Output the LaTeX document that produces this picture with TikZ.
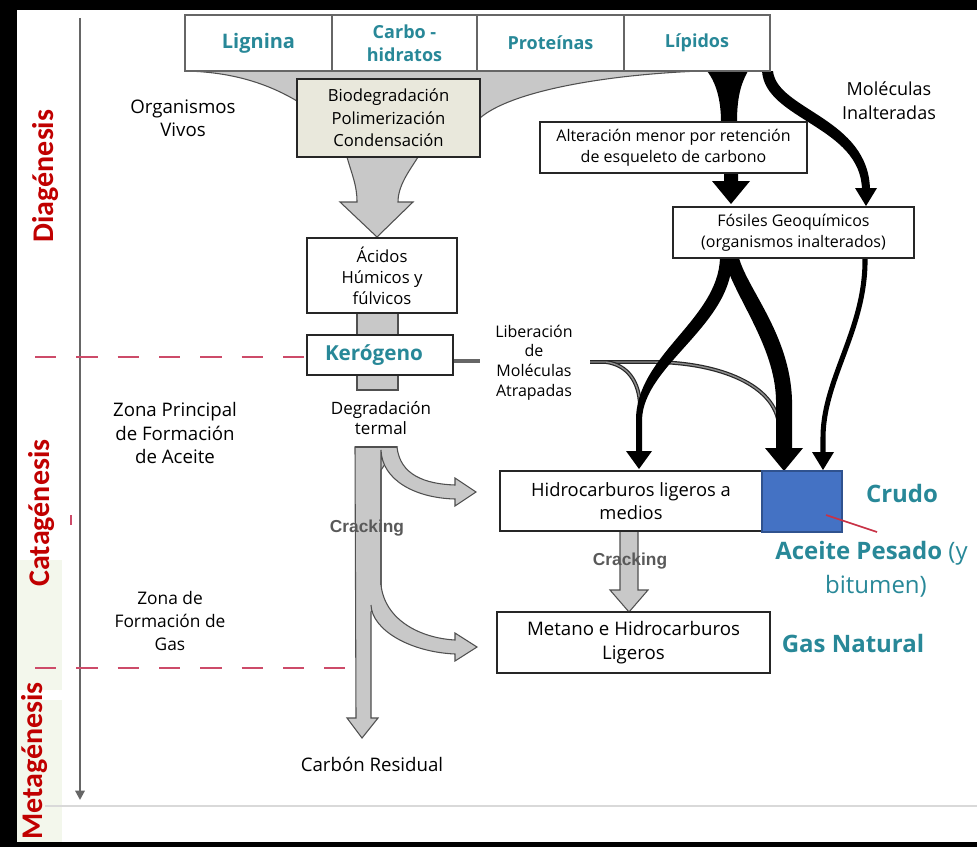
\documentclass[tikz,border=0pt]{standalone}
\usepackage{fontspec}
\setmainfont{Open Sans}
\newfontfamily\carl{Carlito}
\newfontfamily\lsans{Liberation Sans}
\usetikzlibrary{arrows.meta}
\definecolor{teal2}{RGB}{40,136,152}
\definecolor{dred}{RGB}{192,0,0}
\definecolor{dashred}{RGB}{205,75,105}
\definecolor{flowgray}{RGB}{200,200,200}
\definecolor{edgegray}{RGB}{80,80,80}
\definecolor{beige}{RGB}{233,232,220}
\definecolor{blueb}{RGB}{68,114,196}
\definecolor{bluee}{RGB}{47,82,143}
\definecolor{pointer}{RGB}{200,50,70}
\definecolor{stripgreen}{RGB}{243,247,236}
\begin{document}
\begin{tikzpicture}[x=0.75pt,y=-0.75pt,
 box/.style={draw=black!85, line width=0.9pt, fill=white, inner sep=0pt, align=center},
 cell/.style={draw=black!60, line width=1pt, fill=white, inner sep=0pt, align=center, text=teal2, minimum height=42pt},
 txt/.style={inner sep=0pt, align=center},
 gflow/.style={fill=flowgray, draw=edgegray, line width=0.8pt},
 gedge/.style={draw=edgegray, line width=0.8pt},
 zone/.style={rotate=90, text=dred, font=\carl\bfseries\fontsize{22.5}{24}\selectfont, inner sep=0pt},
 redash/.style={dashred, line width=1.5pt, dash pattern=on 16pt off 15pt},
 tealtxt/.style={inner sep=0pt, text=teal2, font=\fontsize{18}{22}\selectfont},
 crk/.style={inner sep=0pt, text=black!65, font=\lsans\bfseries\fontsize{13}{15}\selectfont},
 libline/.style={black!85, line width=0.9pt, double=black!45, double distance=1.1pt},
]
\useasboundingbox (0,0) rectangle (977,847);
\clip (0,0) rectangle (977,847);
% left strip tints
\fill[stripgreen] (17,560) rectangle (62,690);
\fill[stripgreen] (17,700) rectangle (62,842);
% frame
\fill[black] (0,0) rectangle (977,10);
\fill[black] (0,0) rectangle (17,847);
\fill[black] (0,842) rectangle (977,847);
% bottom light line
\draw[black!15, line width=1.5pt] (45,806) -- (977,806);
% axis
\coordinate (axtop) at (80,18);
\coordinate (axbot) at (80,800);
\draw[black!60, line width=1.5pt, -{Triangle[width=7pt,length=7pt]}] (axtop) -- (axbot);
% zone labels
\node[zone] (dia) at (46,176) {Diagénesis};
\node[zone] (cata) at (42,513) {Catagénesis};
\node[zone] (meta) at (35,761) {Metagénesis};
\draw[dashred, line width=1.2pt] (71,515) -- (71,525);
% dashed boundaries
\draw[redash] (35,357) -- (307,357);
\draw[redash] (35,668) -- (345,668);

% ---------- gray flows ----------
\path[fill=flowgray] (185,71) -- (700,71) .. controls (600,75) and (510,92) .. (480,118) -- (480,157) -- (297,157) -- (297,101) .. controls (275,88) and (240,72) .. (185,71) -- cycle;
\draw[gedge] (700,71) .. controls (600,75) and (510,92) .. (480,118);
\draw[gedge] (297,101) .. controls (275,88) and (240,72) .. (185,71);
\path[gflow] (347,157) .. controls (352,175) and (357,185) .. (357,202) -- (340,202) -- (377,237) -- (413,202) -- (398,202) .. controls (398,185) and (410,170) .. (418,157) -- cycle;
\path[gflow] (357,313) rectangle (398,335);
\path[gflow] (357,375) rectangle (398,390);
\path[gflow] (355,447) -- (397,447) -- (381,470) -- (381,600) -- (371,612) -- (371,718) -- (378,718) -- (362,738) -- (347,718) -- (356,718) -- (355,447) -- cycle;
\path[fill=flowgray] (381,447) -- (397,447) .. controls (400,475) and (425,484) .. (455,485) -- (455,478) -- (476,492) -- (455,506) -- (455,499) .. controls (415,498) and (382,480) .. (381,450) -- cycle;
\draw[gedge] (397,447) .. controls (400,475) and (425,484) .. (455,485) -- (455,478) -- (476,492) -- (455,506) -- (455,499) .. controls (415,498) and (382,480) .. (381,450) -- (381,600);
\draw[gedge] (355,447) -- (397,447);
\path[fill=flowgray] (381,585) .. controls (385,620) and (420,638) .. (455,640) -- (455,633) -- (477,647) -- (455,661) -- (455,654) .. controls (410,652) and (372,630) .. (371,605) -- (371,585) -- cycle;
\draw[gedge] (381,585) .. controls (385,620) and (420,638) .. (455,640) -- (455,633) -- (477,647) -- (455,661) -- (455,654) .. controls (410,652) and (372,630) .. (371,605);
\path[gflow] (620,531) -- (638,531) -- (638,590) -- (648,590) -- (629,612) -- (610,590) -- (620,590) -- cycle;

% ---------- liberacion lines ----------
\draw[libline] (590,362) -- (655,362) .. controls (720,363) and (775,385) .. (779,425);
\draw[libline] (606,362) .. controls (628,365) and (639,382) .. (640,405);
\draw[black!60, line width=3pt] (453,361) -- (480,361);

% ---------- black flows ----------
\fill[black] (707,71) .. controls (718,85) and (721,105) .. (721,122) -- (737,122) .. controls (737,100) and (740,85) .. (748,71) -- cycle;
\fill[black] (762,71) .. controls (765,120) and (861,126) .. (862,190) -- (870,190) .. controls (869,118) and (777,110) .. (773,71) -- cycle;
\fill[black] (855,188) -- (877,188) -- (866,206) -- cycle;
\fill[black] (724,173) -- (738,173) -- (738,181) -- (750,181) -- (731,204) -- (712,181) -- (724,181) -- cycle;
\fill[black] (720,258) .. controls (718,320) and (636,355) .. (636,420) -- (636,453) -- (642,453) -- (642,420) .. controls (643,365) and (733,325) .. (732,258) -- cycle;
\fill[black] (626,451) -- (652,451) -- (639,469) -- cycle;
\fill[black] (724,258) .. controls (733,295) and (775,345) .. (776,400) -- (776,450) -- (792,450) -- (792,400) .. controls (790,335) and (748,290) .. (739,258) -- cycle;
\fill[black] (765,448) -- (803,448) -- (784,471) -- cycle;
\draw[black, line width=3.8pt] (865,258) .. controls (866,330) and (822,380) .. (823,440) -- (823,454);
\fill[black] (812,452) -- (834,452) -- (823,470) -- cycle;

% ---------- boxes ----------
\node[cell, minimum width=110.25pt, font=\bfseries\fontsize{15}{17}\selectfont] (lig) at (258.5,43) {Lignina};
\node[cell, minimum width=108.75pt, font=\bfseries\fontsize{13.5}{17}\selectfont] (carbo) at (404.5,43) {Carbo -\\hidratos};
\node[cell, minimum width=110.25pt, font=\bfseries\fontsize{13.5}{17}\selectfont] (prot) at (550.5,43) {Proteínas};
\node[cell, minimum width=109.5pt, font=\bfseries\fontsize{13.5}{17}\selectfont] (lip) at (697,43) {Lípidos};

\node[box, fill=beige, minimum width=137.25pt, minimum height=58.5pt, font=\fontsize{12.5}{16.9}\selectfont] (bio) at (388.5,118) {Biodegradación\\Polimerización\\Condensación};
\node[box, minimum width=112.5pt, minimum height=56.25pt, font=\fontsize{12.5}{15.75}\selectfont] (acid) at (382,275.5) {Ácidos\\Húmicos y\\fúlvicos};
\node[box, minimum width=109.5pt, minimum height=30pt, text=teal2, font=\bfseries\fontsize{15.5}{18}\selectfont] (ker) at (380,355) {Kerógeno\hspace*{9pt}};
\node[box, minimum width=200.25pt, minimum height=38.25pt, font=\fontsize{12}{15.5}\selectfont] (alt) at (673.5,147.5) {Alteración menor por retención\\de esqueleto de carbono};
\node[box, minimum width=180.75pt, minimum height=38.25pt, font=\fontsize{12}{15.75}\selectfont] (fos) at (793.5,232.5) {Fósiles Geoquímicos\\(organismos inalterados)};
\node[box, minimum width=196.5pt, minimum height=45pt, font=\fontsize{13.75}{17.25}\selectfont] (hid) at (631,501) {Hidrocarburos ligeros a\\medios};
\node[draw=bluee, line width=1pt, fill=blueb, minimum width=60pt, minimum height=45.75pt, inner sep=0pt] (crudo) at (802,501.5) {};
\node[box, minimum width=204.75pt, minimum height=45.75pt, font=\fontsize{14}{18}\selectfont] (met) at (633.5,642.5) {Metano e Hidrocarburos\\Ligeros};

% ---------- free texts ----------
\node[txt, font=\fontsize{14}{17.25}\selectfont] (org) at (183,118) {Organismos\\Vivos};
\node[txt, font=\fontsize{14}{17.5}\selectfont] (zpo) at (175,433) {Zona Principal\\de Formación\\de Aceite};
\node[txt, font=\fontsize{13}{17.5}\selectfont] (zgas) at (170,621) {Zona de\\Formación de\\Gas};
\node[txt, font=\fontsize{13.5}{18}\selectfont] (mol) at (889,101) {Moléculas\\Inalteradas};
\node[txt, font=\fontsize{12}{14.8}\selectfont] (lib) at (534,362.5) {Liberación\\de\\Moléculas\\Atrapadas};
\node[txt, font=\fontsize{12.75}{15}\selectfont] (deg) at (381,418) {Degradación\\termal};
\node[txt, font=\fontsize{14}{17}\selectfont] (cres) at (372,764) {Carbón Residual};
\node[crk] (crk1) at (367,528) {Cracking};
\node[crk] (crk2) at (630,561) {Cracking};
\node[tealtxt, font=\bfseries\fontsize{18}{22}\selectfont] (crudotxt) at (902,493) {Crudo};
\node[tealtxt, anchor=west] (acp) at (775,553) {\bfseries Aceite Pesado \mdseries(y};
\node[tealtxt] (bit) at (876,586) {bitumen)};
\node[tealtxt, font=\bfseries\fontsize{18}{22}\selectfont] (gas) at (853,643) {Gas Natural};
\draw[pointer, line width=1.2pt] (826,515) -- (877,532);
\end{tikzpicture}
\end{document}
